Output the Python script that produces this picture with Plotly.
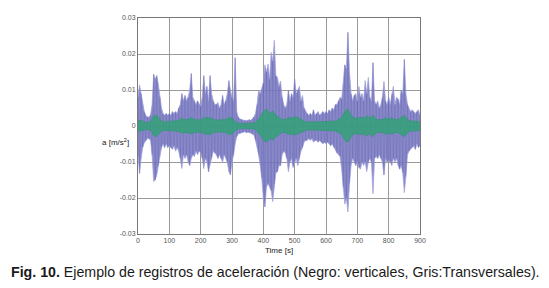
import plotly.graph_objects as go

# time axis for blue envelope (s)
t_blue = list(range(0, 905, 5))
blue_hi = [0.0080, 0.0114, 0.0090, 0.0060, 0.0040, 0.0030, 0.0025, 0.0025, 0.0030, 0.0060,
           0.0144, 0.0130, 0.0140, 0.0115, 0.0080, 0.0050, 0.0035, 0.0030, 0.0035, 0.0030,
           0.0035, 0.0030, 0.0040, 0.0035, 0.0040, 0.0035, 0.0050, 0.0060, 0.0090, 0.0070,
           0.0085, 0.0070, 0.0080, 0.0100, 0.0146, 0.0080, 0.0070, 0.0060, 0.0070, 0.0060,
           0.0055, 0.0080, 0.0140, 0.0090, 0.0110, 0.0070, 0.0140, 0.0090, 0.0070, 0.0060,
           0.0060, 0.0065, 0.0050, 0.0060, 0.0085, 0.0060, 0.0070, 0.0090, 0.0126, 0.0100,
           0.0080, 0.0070, 0.0190, 0.0040, 0.0025, 0.0020, 0.0018, 0.0016, 0.0015, 0.0016,
           0.0015, 0.0018, 0.0016, 0.0020, 0.0025, 0.0035, 0.0060, 0.0100, 0.0090, 0.0105,
           0.0120, 0.0170, 0.0150, 0.0172, 0.0130, 0.0204, 0.0180, 0.0238, 0.0140, 0.0135,
           0.0110, 0.0125, 0.0080, 0.0060, 0.0050, 0.0060, 0.0100, 0.0070, 0.0090, 0.0080,
           0.0130, 0.0090, 0.0100, 0.0110, 0.0070, 0.0085, 0.0050, 0.0040, 0.0035, 0.0030,
           0.0035, 0.0030, 0.0045, 0.0030, 0.0035, 0.0040, 0.0030, 0.0035, 0.0040, 0.0035,
           0.0040, 0.0035, 0.0045, 0.0040, 0.0050, 0.0045, 0.0060, 0.0060, 0.0070, 0.0080,
           0.0075, 0.0120, 0.0170, 0.0160, 0.0260, 0.0150, 0.0090, 0.0070, 0.0085, 0.0090,
           0.0070, 0.0110, 0.0080, 0.0090, 0.0070, 0.0126, 0.0090, 0.0135, 0.0080, 0.0070,
           0.0176, 0.0070, 0.0060, 0.0070, 0.0050, 0.0060, 0.0080, 0.0124, 0.0070, 0.0060,
           0.0080, 0.0060, 0.0090, 0.0110, 0.0060, 0.0080, 0.0075, 0.0060, 0.0100, 0.0090,
           0.0185, 0.0090, 0.0060, 0.0050, 0.0040, 0.0045, 0.0040, 0.0035, 0.0040, 0.0045,
           0.0030]
blue_lo = [-0.0080, -0.0132, -0.0090, -0.0060, -0.0047, -0.0040, -0.0035, -0.0035, -0.0040, -0.0080,
           -0.0154, -0.0150, -0.0136, -0.0110, -0.0080, -0.0060, -0.0050, -0.0060, -0.0050, -0.0060,
           -0.0055, -0.0060, -0.0065, -0.0055, -0.0070, -0.0060, -0.0070, -0.0090, -0.0118, -0.0080,
           -0.0090, -0.0080, -0.0100, -0.0110, -0.0090, -0.0080, -0.0085, -0.0070, -0.0080, -0.0070,
           -0.0075, -0.0090, -0.0118, -0.0090, -0.0100, -0.0127, -0.0110, -0.0090, -0.0070, -0.0075,
           -0.0080, -0.0090, -0.0080, -0.0090, -0.0100, -0.0080, -0.0090, -0.0100, -0.0127, -0.0136,
           -0.0100, -0.0080, -0.0050, -0.0030, -0.0022, -0.0020, -0.0018, -0.0018, -0.0016, -0.0018,
           -0.0017, -0.0018, -0.0020, -0.0022, -0.0025, -0.0040, -0.0060, -0.0080, -0.0110, -0.0145,
           -0.0200, -0.0225, -0.0170, -0.0160, -0.0170, -0.0180, -0.0210, -0.0160, -0.0130, -0.0127,
           -0.0110, -0.0110, -0.0080, -0.0070, -0.0075, -0.0090, -0.0127, -0.0100, -0.0090, -0.0115,
           -0.0100, -0.0090, -0.0110, -0.0090, -0.0070, -0.0060, -0.0045, -0.0040, -0.0040, -0.0035,
           -0.0040, -0.0035, -0.0045, -0.0040, -0.0040, -0.0045, -0.0040, -0.0045, -0.0050, -0.0045,
           -0.0050, -0.0045, -0.0050, -0.0055, -0.0050, -0.0060, -0.0070, -0.0075, -0.0080, -0.0085,
           -0.0120, -0.0170, -0.0217, -0.0200, -0.0239, -0.0160, -0.0110, -0.0090, -0.0100, -0.0110,
           -0.0100, -0.0115, -0.0120, -0.0100, -0.0110, -0.0100, -0.0127, -0.0100, -0.0090, -0.0100,
           -0.0188, -0.0090, -0.0085, -0.0090, -0.0080, -0.0090, -0.0100, -0.0136, -0.0090, -0.0100,
           -0.0095, -0.0100, -0.0110, -0.0090, -0.0100, -0.0090, -0.0110, -0.0120, -0.0110, -0.0130,
           -0.0185, -0.0140, -0.0080, -0.0070, -0.0065, -0.0060, -0.0055, -0.0065, -0.0050, -0.0060,
           -0.0055]

# time axis for green envelope (s)
t_green = list(range(0, 910, 10))
green_hi = [0.0015, 0.0016, 0.0012, 0.0010, 0.0012, 0.0028, 0.0030, 0.0018, 0.0012, 0.0012,
            0.0013, 0.0014, 0.0015, 0.0015, 0.0022, 0.0018, 0.0018, 0.0024, 0.0018, 0.0018,
            0.0017, 0.0024, 0.0022, 0.0024, 0.0018, 0.0017, 0.0017, 0.0018, 0.0018, 0.0024,
            0.0022, 0.0014, 0.0008, 0.0007, 0.0007, 0.0007, 0.0007, 0.0008, 0.0015, 0.0025,
            0.0040, 0.0048, 0.0035, 0.0042, 0.0030, 0.0024, 0.0018, 0.0018, 0.0024, 0.0022,
            0.0025, 0.0024, 0.0018, 0.0014, 0.0011, 0.0011, 0.0011, 0.0011, 0.0011, 0.0011,
            0.0011, 0.0013, 0.0014, 0.0014, 0.0018, 0.0024, 0.0040, 0.0048, 0.0030, 0.0022,
            0.0022, 0.0024, 0.0022, 0.0028, 0.0022, 0.0030, 0.0018, 0.0018, 0.0018, 0.0024,
            0.0018, 0.0024, 0.0018, 0.0018, 0.0024, 0.0030, 0.0018, 0.0014, 0.0014, 0.0014,
            0.0011]
green_lo = [-0.0015, -0.0014, -0.0012, -0.0010, -0.0012, -0.0026, -0.0030, -0.0018, -0.0012, -0.0013,
            -0.0013, -0.0014, -0.0015, -0.0015, -0.0020, -0.0018, -0.0018, -0.0022, -0.0018, -0.0018,
            -0.0017, -0.0022, -0.0022, -0.0024, -0.0018, -0.0017, -0.0017, -0.0018, -0.0018, -0.0024,
            -0.0022, -0.0014, -0.0008, -0.0007, -0.0007, -0.0007, -0.0007, -0.0008, -0.0015, -0.0025,
            -0.0040, -0.0045, -0.0035, -0.0040, -0.0030, -0.0024, -0.0018, -0.0018, -0.0024, -0.0022,
            -0.0025, -0.0022, -0.0018, -0.0014, -0.0011, -0.0011, -0.0011, -0.0011, -0.0011, -0.0011,
            -0.0011, -0.0013, -0.0014, -0.0014, -0.0018, -0.0024, -0.0040, -0.0045, -0.0030, -0.0022,
            -0.0022, -0.0024, -0.0022, -0.0028, -0.0022, -0.0030, -0.0018, -0.0018, -0.0018, -0.0024,
            -0.0018, -0.0024, -0.0018, -0.0018, -0.0024, -0.0030, -0.0018, -0.0014, -0.0014, -0.0014,
            -0.0011]

x_ticks = [0, 100, 200, 300, 400, 500, 600, 700, 800, 900]
x_labels = ["0", "100", "200", "300", "400", "500", "600", "700", "800", "900"]
y_ticks = [-0.03, -0.02, -0.01, 0, 0.01, 0.02, 0.03]
y_labels = ["-0.03", "-0.02", "-0.01", "0", "0.01", "0.02", "0.03"]

BLUE_FILL = "rgba(122,122,195,0.88)"
BLUE_EDGE = "rgba(160,160,220,0.9)"
BLUE_STREAK = "rgba(70,70,155,0.45)"
GREEN_FILL = "rgba(40,165,110,0.75)"
GREEN_LINE = "rgba(30,150,100,0.85)"

fig = go.Figure()

# blue envelope band
fig.add_trace(go.Scatter(x=t_blue, y=blue_hi, mode="lines", line=dict(width=0.8, color=BLUE_EDGE),
                         showlegend=False, hoverinfo="skip"))
fig.add_trace(go.Scatter(x=t_blue, y=blue_lo, mode="lines", line=dict(width=0.8, color=BLUE_EDGE),
                         fill="tonexty", fillcolor=BLUE_FILL, showlegend=False, hoverinfo="skip"))
# darker oscillation streaks inside the band
zig_y = [blue_hi[i] if i % 2 == 0 else blue_lo[i] for i in range(len(t_blue))]
fig.add_trace(go.Scatter(x=t_blue, y=zig_y, mode="lines", line=dict(width=0.4, color=BLUE_STREAK),
                         showlegend=False, hoverinfo="skip"))

# green band
fig.add_trace(go.Scatter(x=t_green, y=green_hi, mode="lines", line=dict(width=0.5, color=GREEN_LINE),
                         showlegend=False, hoverinfo="skip"))
fig.add_trace(go.Scatter(x=t_green, y=green_lo, mode="lines", line=dict(width=0.5, color=GREEN_LINE),
                         fill="tonexty", fillcolor=GREEN_FILL, showlegend=False, hoverinfo="skip"))

axis_font = dict(family="Liberation Sans, Arial, sans-serif", size=7, color="#555555")

# the page body adds an 8 px offset; margins compensate for it
fig.update_layout(
    width=549, height=288,
    margin=dict(l=130, r=137, t=6, b=62),
    paper_bgcolor="white", plot_bgcolor="white",
    xaxis=dict(range=[0, 900], tickvals=x_ticks, ticktext=x_labels, showgrid=True,
               gridcolor="#9a9a9a", gridwidth=1, showline=True, linecolor="#777777",
               mirror=True, ticks="", tickfont=axis_font, zeroline=False, fixedrange=True),
    yaxis=dict(range=[-0.03, 0.03], tickvals=y_ticks, ticktext=y_labels, showgrid=True,
               gridcolor="#9a9a9a", gridwidth=1, showline=True, linecolor="#777777",
               mirror=True, ticks="", tickfont=axis_font, zeroline=False, fixedrange=True),
    annotations=[
        dict(text="a [m/s<sup>2</sup>]", xref="paper", yref="y", x=-0.025, y=-0.0045,
             xanchor="right", yanchor="middle", showarrow=False,
             font=dict(family="Liberation Sans, Arial, sans-serif", size=8, color="#222222")),
        dict(text="Time [s]", xref="paper", yref="paper", x=0.5, y=-0.045,
             xanchor="center", yanchor="top", showarrow=False,
             font=dict(family="Liberation Sans, Arial, sans-serif", size=8, color="#222222")),
        dict(text="<b>Fig. 10.</b> Ejemplo de registros de aceleración (Negro: verticales, Gris:Transversales).",
             xref="paper", yref="paper", x=-129 / 282, y=-0.13, xanchor="left", yanchor="top",
             showarrow=False,
             font=dict(family="Liberation Sans, Arial, sans-serif", size=14.2, color="#1a1a1a")),
    ],
)

fig.write_html("out.html")
